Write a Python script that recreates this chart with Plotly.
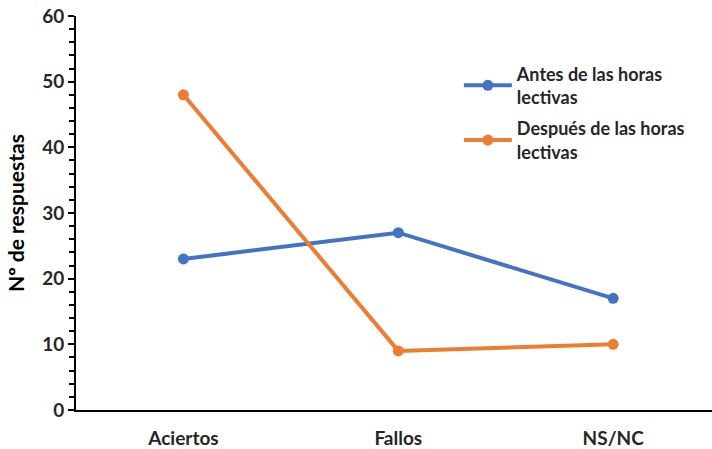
import plotly.graph_objects as go

categorias = ["Aciertos", "Fallos", "NS/NC"]
antes = [23, 27, 17]
despues = [48, 9, 10]
nombres = ["Antes de las horas<br>lectivas", "Después de las horas<br>lectivas"]
colores = ["#4472C4", "#ED7D31"]

fig = go.Figure()
for i, (nombre, valores, color) in enumerate(zip(nombres, [antes, despues], colores)):
    fig.add_trace(go.Scatter(
        x=categorias, y=valores, name=nombre, mode="lines+markers",
        legendgroup=f"g{i}",
        line=dict(color=color, width=4),
        marker=dict(color=color, size=11),
    ))

font = "Lato"
fig.update_layout(
    width=712, height=449,
    margin=dict(l=76, r=0, t=16, b=39),
    paper_bgcolor="white", plot_bgcolor="white",
    font=dict(family=font, color="#262626"),
    showlegend=True,
    legend=dict(
        x=0.602, y=0.90, xanchor="left", yanchor="top",
        font=dict(family=font, size=18, color="#262626", weight="bold"),
        tracegroupgap=5, itemwidth=48,
        bgcolor="rgba(0,0,0,0)",
    ),
    xaxis=dict(
        type="category", range=[-0.5, 2.46], automargin=False,
        showline=True, linecolor="black", linewidth=2,
        showgrid=False, ticks="",
        ticklabelstandoff=10,
        tickfont=dict(family=font, size=19, color="#262626", weight="bold"),
    ),
    yaxis=dict(
        range=[0, 60], dtick=10, automargin=False,
        showline=True, linecolor="black", linewidth=2,
        showgrid=False, zeroline=False,
        ticks="outside", ticklen=6, tickwidth=2, tickcolor="black",
        minor=dict(dtick=2, ticks="outside", ticklen=5, tickwidth=1.5, tickcolor="black"),
        tickfont=dict(family=font, size=19, color="#262626", weight="bold"),
        title=dict(text="Nº de respuestas", standoff=12,
                   font=dict(family=font, size=21, color="black", weight="bold")),
    ),
)

fig.write_html("out.html")
